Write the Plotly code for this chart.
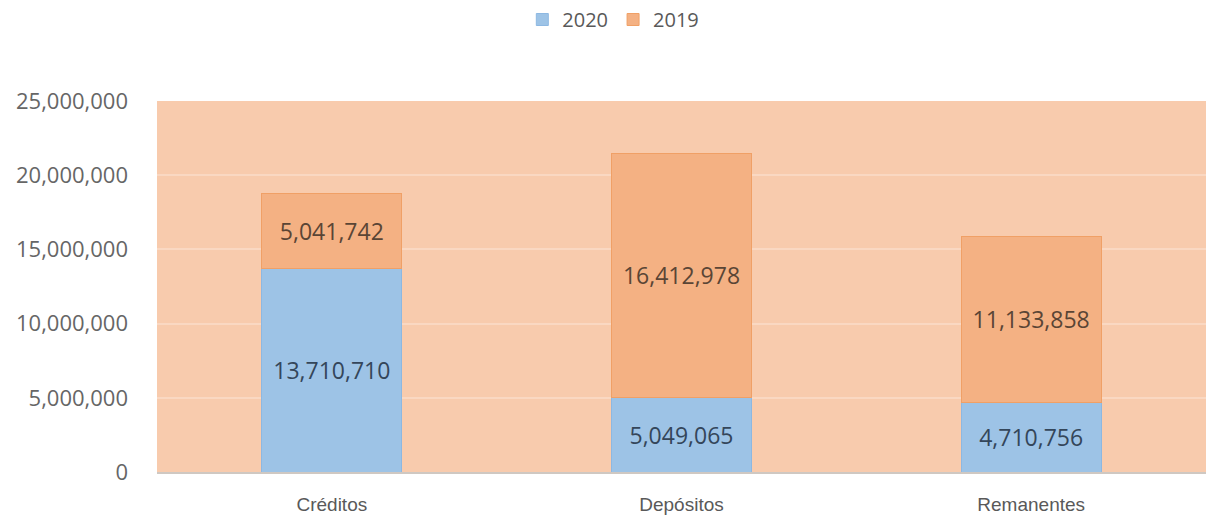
import plotly.graph_objects as go

categories = ["Créditos", "Depósitos", "Remanentes"]
values_2020 = [13710710, 5049065, 4710756]
values_2019 = [5041742, 16412978, 11133858]
y_ticks = [0, 5000000, 10000000, 15000000, 20000000, 25000000]

fig = go.Figure()
fig.add_trace(go.Bar(
    name="2020", x=categories, y=values_2020,
    marker=dict(color="#9DC3E6", line=dict(color="#8DB8E2", width=1)),
    text=values_2020, texttemplate="%{y:,.0f}", textposition="inside",
    insidetextanchor="middle", constraintext="none",
    textfont=dict(family="Open Sans", size=23, color="#34465A"),
    width=0.4,
))
fig.add_trace(go.Bar(
    name="2019", x=categories, y=values_2019,
    marker=dict(color="#F4B183", line=dict(color="#F0A066", width=1)),
    text=values_2019, texttemplate="%{y:,.0f}", textposition="inside",
    insidetextanchor="middle", constraintext="none",
    textfont=dict(family="Open Sans", size=23, color="#5A4535"),
    width=0.4,
))

fig.update_layout(
    barmode="stack",
    width=1206, height=518,
    margin=dict(l=157, r=0, t=101, b=46),
    paper_bgcolor="white",
    plot_bgcolor="#F8CBAD",
    showlegend=True,
    legend=dict(
        orientation="h", x=0.435, xanchor="center", y=1.22, yanchor="middle",
        font=dict(family="Open Sans", size=20, color="#595959"),
        itemwidth=30, traceorder="normal",
    ),
    bargap=0.6,
)
fig.update_yaxes(
    range=[0, 25000000], tickvals=y_ticks, tickformat=",",
    tickfont=dict(family="Open Sans", size=22, color="#666666"),
    gridcolor="#FAD8C2", gridwidth=2, zeroline=False,
    ticklabelstandoff=28, showline=False, automargin=False,
)
fig.update_xaxes(
    tickfont=dict(family="Liberation Sans", size=19, color="#595959"),
    showline=True, linecolor="#CFC8C2", linewidth=2,
    ticklabelstandoff=14, automargin=False,
)

fig.write_html(
    "out.html",
    config={"displayModeBar": False},
    post_script="document.body.style.margin='0';document.body.style.overflow='hidden';",
)
